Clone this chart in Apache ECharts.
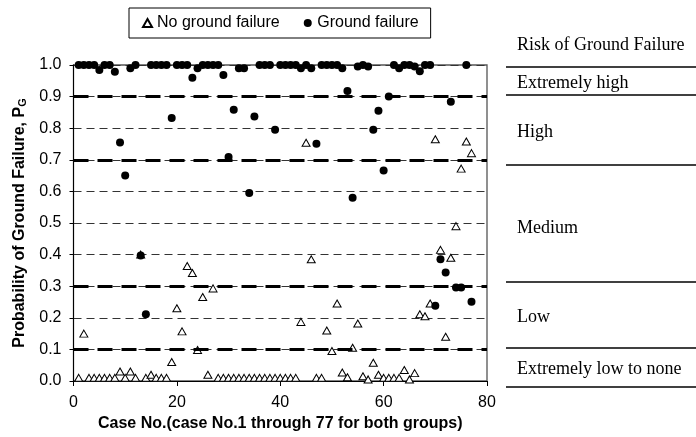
<!DOCTYPE html>
<html>
<head>
<meta charset="utf-8">
<script src="https://cdn.jsdelivr.net/npm/echarts@6/dist/echarts.min.js"></script>
<style>html,body{margin:0;padding:0;background:#fff}#c{width:696px;height:437px}</style>
</head>
<body>
<div id="c"></div>
<script>
const cases = Array.from({length: 77}, (_, i) => i + 1);
const noFailure = [
  0.01, 0.15, 0.01, 0.01, 0.01, 0.01, 0.01, 0.01, 0.03, 0.01,
  0.03, 0.01, 0.40, 0.01, 0.02, 0.01, 0.01, 0.01, 0.06, 0.23,
  0.157, 0.364, 0.342, 0.098, 0.266, 0.02, 0.293, 0.01, 0.01, 0.01,
  0.01, 0.01, 0.01, 0.01, 0.01, 0.01, 0.01, 0.01, 0.01, 0.01,
  0.01, 0.01, 0.01, 0.187, 0.754, 0.385, 0.01, 0.01, 0.16, 0.095,
  0.245, 0.027, 0.012, 0.105, 0.182, 0.015, 0.005, 0.058, 0.02, 0.01,
  0.01, 0.01, 0.01, 0.035, 0.005, 0.025, 0.211, 0.205, 0.245, 0.765,
  0.415, 0.14, 0.39, 0.49, 0.672, 0.758, 0.721
];
const groundFailure = [
  1.0, 1.0, 1.0, 1.0, 0.984, 1.0, 1.0, 0.979, 0.755, 0.65,
  0.99, 1.0, 0.397, 0.211, 1.0, 1.0, 1.0, 1.0, 0.832, 1.0,
  1.0, 1.0, 0.96, 0.99, 1.0, 1.0, 1.0, 1.0, 0.968, 0.709,
  0.858, 0.99, 0.99, 0.595, 0.837, 1.0, 1.0, 1.0, 0.795, 1.0,
  1.0, 1.0, 1.0, 0.99, 1.0, 0.99, 0.751, 1.0, 1.0, 1.0,
  1.0, 0.99, 0.918, 0.58, 0.995, 1.0, 0.995, 0.795, 0.855, 0.666,
  0.9, 1.0, 0.99, 1.0, 1.0, 0.995, 0.98, 1.0, 1.0, 0.238,
  0.385, 0.343, 0.884, 0.296, 0.296, 1.0, 0.251
];
const thresholds = [0.1, 0.3, 0.7, 0.9];
const riskLabels = ['Risk of Ground Failure', 'Extremely high', 'High', 'Medium', 'Low', 'Extremely low to none'];

const chart = echarts.init(document.getElementById('c'), null, {renderer: 'canvas'});
const font = 'Arial, "Liberation Sans", sans-serif';
const serif = '"Times New Roman", "Liberation Serif", serif';

const riskTextY = [45, 83, 132, 228, 317, 369];
const riskLineY = [67, 95, 165, 282, 348, 387];
const graphics = [];
riskLabels.forEach((t, i) => graphics.push({
  type: 'text', x: 517, y: riskTextY[i],
  style: {text: t, font: '18px ' + serif, fill: '#000', textAlign: 'left', textVerticalAlign: 'middle', verticalAlign: 'middle'}
}));
riskLineY.forEach(y => graphics.push({
  type: 'line', shape: {x1: 506, y1: y, x2: 696, y2: y},
  style: {stroke: '#000', lineWidth: 1.3}
}));

chart.setOption({
  animation: false,
  backgroundColor: '#fff',
  textStyle: {fontFamily: font},
  grid: {left: 73.5, right: 209, top: 65, bottom: 55, show: true, borderColor: '#555', borderWidth: 1.3, backgroundColor: 'transparent'},
  legend: {
    left: 129, top: 8,
    padding: [7, 12, 7, 13],
    itemGap: 24,
    itemWidth: 9, itemHeight: 8,
    borderColor: '#000', borderWidth: 1,
    textStyle: {fontSize: 16, color: '#000', fontFamily: font},
    data: ['No ground failure', 'Ground failure']
  },
  xAxis: {
    type: 'value', min: 0, max: 80, interval: 20,
    axisLine: {lineStyle: {color: '#000', width: 1}},
    axisTick: {show: true, inside: false, length: 5, lineStyle: {color: '#000'}},
    axisLabel: {fontSize: 16, color: '#000', fontFamily: font, margin: 14},
    splitLine: {show: false},
    name: 'Case No.(case No.1 through 77 for both groups)',
    nameLocation: 'middle', nameGap: 35,
    nameTextStyle: {fontSize: 16, fontWeight: 'bold', color: '#000', fontFamily: font}
  },
  yAxis: {
    type: 'value', min: 0, max: 1, interval: 0.1,
    axisLine: {show: true, lineStyle: {color: '#000', width: 1}},
    axisTick: {show: true, inside: false, length: 4, lineStyle: {color: '#000'}},
    axisLabel: {fontSize: 16, color: '#000', fontFamily: font, margin: 12, formatter: v => v.toFixed(1)},
    splitLine: {show: true, lineStyle: {color: '#333', width: 1, type: [8, 5]}},
    name: '{a|Probability of Ground Failure, P}{s|G}',
    nameLocation: 'middle', nameGap: 44, nameRotate: 90,
    nameTextStyle: {
      fontFamily: font, color: '#000',
      rich: {
        a: {fontSize: 16, fontWeight: 'bold', fontFamily: font, color: '#000'},
        s: {fontSize: 11, fontWeight: 'bold', fontFamily: font, color: '#000', verticalAlign: 'bottom', padding: [7, 0, 0, 0]}
      }
    }
  },
  graphic: graphics,
  series: [
    {
      name: 'No ground failure', type: 'scatter',
      symbol: 'triangle', symbolSize: [8, 7],
      itemStyle: {color: '#fff', borderColor: '#000', borderWidth: 1, opacity: 1},
      data: cases.map((c, i) => [c, noFailure[i]]),
      markLine: {
        silent: true, symbol: 'none', animation: false,
        label: {show: false},
        lineStyle: {color: '#000', width: 3, type: [15, 9]},
        data: thresholds.map(v => ({yAxis: v}))
      },
      z: 3
    },
    {
      name: 'Ground failure', type: 'scatter',
      symbol: 'circle', symbolSize: 8,
      itemStyle: {color: '#000', opacity: 1},
      data: cases.map((c, i) => [c, groundFailure[i]]),
      z: 4
    }
  ]
});
</script>
</body>
</html>
